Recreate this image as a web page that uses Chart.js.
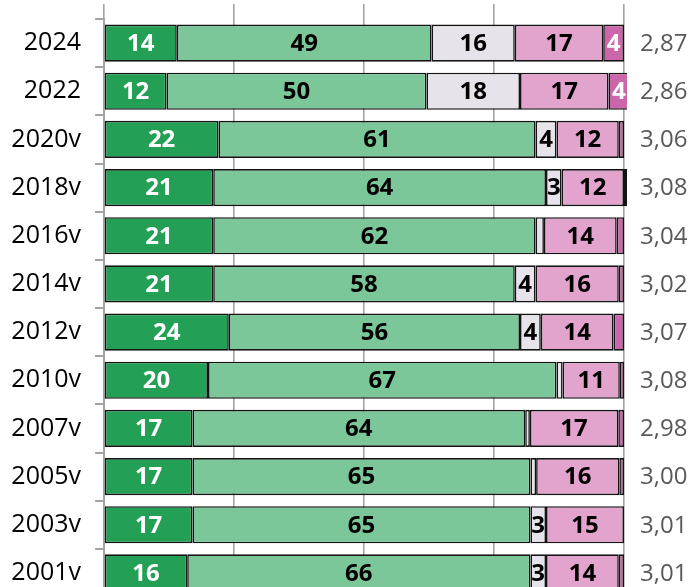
<!DOCTYPE html>
<html>
<head>
<meta charset="utf-8">
<script src="https://cdn.jsdelivr.net/npm/chart.js@4"></script>
<style>
  html, body { margin: 0; padding: 0; background: #fff; overflow: hidden; }
  canvas { display: block; }
</style>
</head>
<body>
<canvas id="c" width="694" height="597"></canvas>
<script>
// Survey rounds, top to bottom
const years = ['2024', '2022', '2020v', '2018v', '2016v', '2014v', '2012v', '2010v', '2007v', '2005v', '2003v', '2001v'];

// Share of answers per round (percent)
const veryGood  = [14, 12, 22, 21, 21, 21, 24, 20, 17, 17, 17, 16];
const good      = [49, 50, 61, 64, 62, 58, 56, 67, 64, 65, 65, 66];
const neutral   = [16, 18, 4, 3, 1.6, 4, 4, 1.2, 0.9, 1.1, 3, 3];
const bad       = [17, 17, 12, 12, 14, 16, 14, 11, 17, 16, 15, 14];
const veryBad   = [4, 4, 1, 0.6, 1.4, 1, 2, 0.8, 1.1, 0.9, 0, 1];

// Mean score per round
const averages  = [2.87, 2.86, 3.06, 3.08, 3.04, 3.02, 3.07, 3.08, 2.98, 3.00, 3.01, 3.01];

// Percent axis gridline steps
const gridStep = 25;

Chart.defaults.font.family = "'Open Sans', 'Noto Sans', sans-serif";

const AXIS_GREY = '#a3a3a3';
const EDGE = '#141414';

// Writes the rounded share inside each wide enough segment and the mean to the right
const barLabels = {
  id: 'barLabels',
  afterDatasetsDraw(chart) {
    const ctx = chart.ctx;
    ctx.save();
    ctx.textBaseline = 'middle';
    ctx.textAlign = 'center';
    ctx.font = "bold 24px 'Open Sans', sans-serif";
    chart.data.datasets.forEach((ds, di) => {
      const meta = chart.getDatasetMeta(di);
      meta.data.forEach((bar, i) => {
        const v = ds.data[i];
        if (v < 3) return;
        const p = bar.getProps(['x', 'base', 'y'], true);
        ctx.fillStyle = ds.labelColor;
        ctx.fillText(String(Math.round(v)), (p.x + p.base) / 2, p.y + 1);
      });
    });
    const area = chart.chartArea;
    const first = chart.getDatasetMeta(0);
    ctx.textAlign = 'left';
    ctx.font = "24px 'Open Sans', sans-serif";
    ctx.fillStyle = '#595959';
    averages.forEach((a, i) => {
      const y = first.data[i].y;
      ctx.fillText(a.toFixed(2).replace('.', ','), area.right + 16, y + 1);
    });
    ctx.restore();
  }
};

const mk = (label, data, color, labelColor) => ({
  label, data,
  backgroundColor: color,
  borderColor: EDGE,
  borderWidth: 1.6,
  borderSkipped: false,
  labelColor,
  clip: { left: 0, top: false, right: 3, bottom: false }
});

new Chart(document.getElementById('c'), {
  type: 'bar',
  data: {
    labels: years,
    datasets: [
      mk('Mycket bra', veryGood, '#23a055', '#ffffff'),
      mk('Ganska bra', good, '#7bc79a', '#000000'),
      mk('Varken eller', neutral, '#e7e3ea', '#000000'),
      mk('Ganska dåligt', bad, '#e2a4cd', '#000000'),
      mk('Mycket dåligt', veryBad, '#cc66aa', '#ffffff')
    ]
  },
  options: {
    indexAxis: 'y',
    responsive: false,
    animation: false,
    layout: { padding: { top: 4, right: 70, bottom: 0, left: 0 } },
    datasets: { bar: { categoryPercentage: 1, barPercentage: 0.77 } },
    plugins: { legend: { display: false }, tooltip: { enabled: false } },
    scales: {
      x: {
        stacked: true,
        position: 'top',
        min: 0,
        max: 100,
        ticks: { display: false, stepSize: gridStep },
        grid: { color: AXIS_GREY, lineWidth: 1.6, drawTicks: true, tickLength: 15 },
        border: { display: false }
      },
      y: {
        stacked: true,
        offset: true,
        grid: { offset: true, drawOnChartArea: false, drawTicks: true, tickLength: 9, color: AXIS_GREY, lineWidth: 2 },
        border: { display: true, color: AXIS_GREY, width: 2 },
        ticks: { color: '#000', padding: 14, font: { size: 25 } },
        afterFit(scale) {
          scale.width = 104;
          scale.paddingTop = 0;
          scale.paddingBottom = 0;
        }
      }
    }
  },
  plugins: [barLabels]
});
</script>
</body>
</html>
